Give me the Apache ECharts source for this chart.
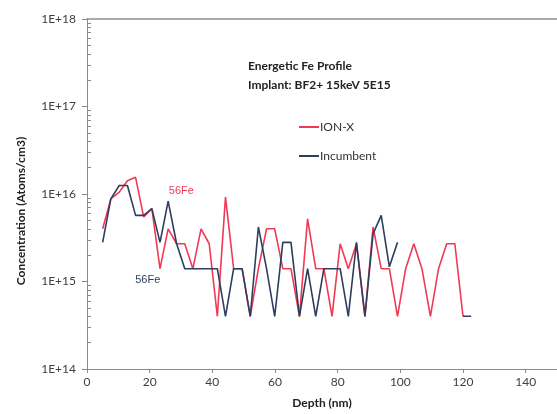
<!DOCTYPE html>
<html><head><meta charset="utf-8">
<script src="https://cdn.jsdelivr.net/npm/echarts@6/dist/echarts.min.js"></script>
<style>html,body{margin:0;padding:0;background:#fff}#c{width:557px;height:414px}</style>
</head><body><div id="c"></div>
<script>
// ---- data ----
const depths = [5.0, 7.6, 10.3, 12.9, 15.5, 18.1, 20.7, 23.3, 25.9, 28.6, 31.2, 33.8, 36.4, 39.0, 41.6, 44.2,
  46.8, 49.5, 52.1, 54.7, 57.3, 59.9, 62.5, 65.1, 67.8, 70.4, 73.0, 75.6, 78.2, 80.8, 83.4, 86.0, 88.7, 91.3,
  93.9, 96.5, 99.1, 101.7, 104.3, 106.9, 109.6, 112.2, 114.8, 117.4, 120.0, 122.6];
const ionX = [4.0e15, 8.8e15, 1.05e16, 1.42e16, 1.55e16, 5.45e15, 6.8e15, 1.4e15, 4.0e15, 2.7e15, 2.7e15, 1.4e15,
  4.0e15, 2.7e15, 4e14, 9.2e15, 1.4e15, 1.4e15, 4e14, 1.4e15, 4.0e15, 4.0e15, 1.4e15, 1.4e15, 4e14, 5.2e15,
  1.4e15, 1.4e15, 4e14, 2.7e15, 1.4e15, 2.7e15, 4e14, 4.2e15, 1.4e15, 1.4e15, 4e14, 1.4e15, 2.7e15, 1.4e15,
  4e14, 1.4e15, 2.7e15, 2.7e15, 4e14];
const incumbent = [2.8e15, 8.8e15, 1.25e16, 1.25e16, 5.7e15, 5.7e15, 6.8e15, 2.8e15, 8.3e15, 2.7e15, 1.4e15,
  1.4e15, 1.4e15, 1.4e15, 1.4e15, 4e14, 1.4e15, 1.4e15, 4e14, 4.2e15, 1.4e15, 4e14, 2.8e15, 2.8e15, 4e14,
  1.4e15, 4e14, 1.4e15, 1.4e15, 1.4e15, 4e14, 2.8e15, 4e14, 3.5e15, 5.7e15, 1.47e15, 2.8e15,
  null, null, null, null, null, null, null, 4e14, 4e14];
const seriesNames = ['ION-X', 'Incumbent'];
const yMajorTicks = [1e14, 1e15, 1e16, 1e17, 1e18];
const xTickLabels = [0, 20, 40, 60, 80, 100, 120, 140];
const titleLines = ['Energetic Fe Profile', 'Implant: BF2+ 15keV 5E15'];
const annotations = [
  { text: '56Fe', at: [30.1, 1.09e16], color: '#f03a55' },
  { text: '56Fe', at: [19.4, 1.05e15], color: '#2f3d5e' }
];

const minorTicks = [];
for (let e = 14; e < 18; e++) for (let m = 2; m <= 9; m++) minorTicks.push(m * Math.pow(10, e));

const toPairs = (arr) => arr.map((v, i) => [depths[i], v == null ? '-' : v]);
const FONT = 'Lato';
const RED = '#f03a55', NAVY = '#2f3d5e', AXIS = '#8a8a8a', TXT = '#404040';

const chart = echarts.init(document.getElementById('c'), null, { renderer: 'canvas' });
const option = {
  animation: false,
  backgroundColor: '#ffffff',
  textStyle: { fontFamily: FONT },
  grid: { left: 87, right: -7, top: 19, bottom: 43, containLabel: false },
  legend: {
    orient: 'vertical', left: 294, top: 116, itemGap: 17,
    icon: 'rect', itemWidth: 20, itemHeight: 2,
    textStyle: { fontFamily: FONT, fontSize: 12, color: '#333', padding: [0, 0, 0, -4] },
    data: seriesNames
  },
  xAxis: [{
    type: 'value', min: 0, max: 150, interval: 20,
    axisLine: { show: true, lineStyle: { color: AXIS, width: 1 } },
    axisTick: { show: true, length: 4, lineStyle: { color: AXIS } },
    axisLabel: { color: TXT, fontFamily: FONT, fontSize: 12, margin: 7, showMaxLabel: false,
      formatter: (v) => xTickLabels.indexOf(v) >= 0 ? String(v) : '' },
    splitLine: { show: false },
    name: 'Depth (nm)', nameLocation: 'middle', nameGap: 28,
    nameTextStyle: { fontFamily: FONT, fontWeight: 'bold', fontSize: 12, color: '#222' }
  }, {
    type: 'value', min: 0, max: 150, position: 'top',
    axisLine: { show: true, lineStyle: { color: '#8f8f8f', width: 1.5 } },
    axisTick: { show: false }, axisLabel: { show: false }, splitLine: { show: false }
  }],
  yAxis: [{
    type: 'log', logBase: 10, min: yMajorTicks[0], max: yMajorTicks[yMajorTicks.length - 1],
    axisLine: { show: true, lineStyle: { color: AXIS, width: 1 } },
    axisTick: { show: true, length: 5, lineStyle: { color: AXIS } },
    axisLabel: { color: TXT, fontFamily: FONT, fontSize: 12, margin: 11,
      showMaxLabel: true, showMinLabel: true, hideOverlap: false,
      formatter: (v) => '1E+' + Math.round(Math.log10(v)) },
    splitLine: { show: false }
  }, {
    type: 'log', logBase: 10, min: 1e14, max: 1e18, position: 'left',
    axisLine: { show: false },
    axisTick: { show: true, inside: true, length: 4, lineStyle: { color: AXIS }, customValues: minorTicks },
    axisLabel: { show: false },
    splitLine: { show: false }
  }],
  series: [
    { name: seriesNames[0], type: 'line', data: toPairs(ionX), showSymbol: false, symbol: 'none',
      color: RED, lineStyle: { color: RED, width: 1.6 }, connectNulls: false },
    { name: seriesNames[1], type: 'line', data: toPairs(incumbent), showSymbol: false, symbol: 'none',
      color: NAVY, lineStyle: { color: NAVY, width: 1.6 }, connectNulls: false }
  ]
};
chart.setOption(option);

const gfx = [
  { type: 'text', left: 248, top: 60, style: { text: titleLines[0], font: 'bold 12px ' + FONT, fill: '#222' } },
  { type: 'text', left: 248, top: 79, style: { text: titleLines[1], font: 'bold 12px ' + FONT, fill: '#222' } },
  { type: 'text', x: 21, y: 211, rotation: Math.PI / 2,
    style: { text: 'Concentration (Atoms/cm3)', font: 'bold 12px ' + FONT, fill: '#222', align: 'center', verticalAlign: 'middle' } }
];
annotations.forEach(a => {
  const p = chart.convertToPixel({ xAxisIndex: 0, yAxisIndex: 0 }, a.at);
  gfx.push({ type: 'text', x: p[0], y: p[1],
    style: { text: a.text, font: '11px "Liberation Sans"', fill: a.color, align: 'center', verticalAlign: 'middle' } });
});
chart.setOption({ graphic: gfx });
</script>
</body></html>
